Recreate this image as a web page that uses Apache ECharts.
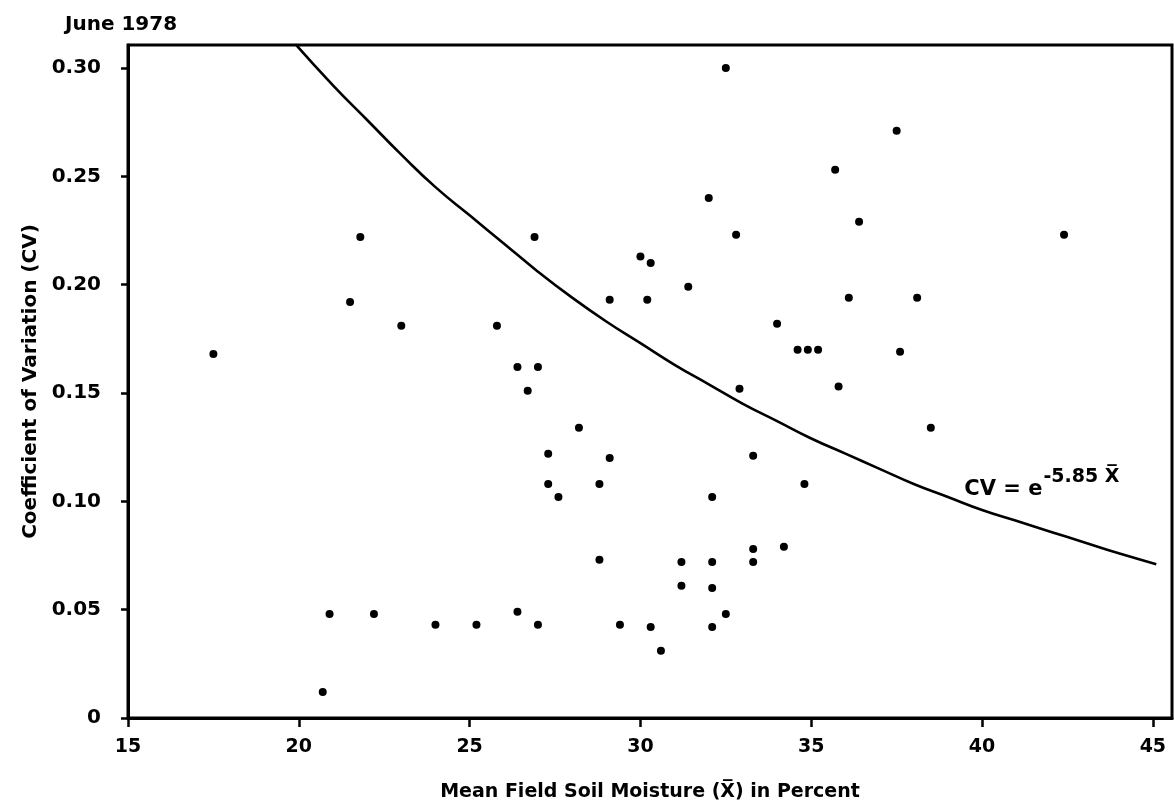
<!DOCTYPE html>
<html>
<head>
<meta charset="utf-8">
<title>June 1978 — Coefficient of Variation vs Mean Field Soil Moisture</title>
<script src="https://cdn.jsdelivr.net/npm/echarts@6/dist/echarts.min.js"></script>
<style>
  html, body { margin: 0; padding: 0; background: #fff; }
  #chart { width: 1174px; height: 809px; }
</style>
</head>
<body>
<div id="chart"></div>
<script>
// Field sample points: mean soil moisture (%) and coefficient of variation
const moisture = [
  17.5, 20.7, 20.9, 21.5, 21.8, 22.2, 23.0, 24.0, 25.2, 25.8,
  26.4, 26.4, 26.7, 26.9, 27.0, 27.0, 27.3, 27.3, 27.6, 28.2,
  28.8, 28.8, 29.1, 29.1, 29.4, 30.0, 30.3, 30.2, 30.3, 30.6,
  31.2, 31.2, 31.4, 32.0, 32.1, 32.1, 32.1, 32.1, 32.5, 32.5,
  32.8, 32.9, 33.3, 33.3, 33.3, 34.0, 34.2, 34.6, 34.8, 34.9,
  35.2, 35.7, 35.8, 36.1, 36.4, 37.5, 37.6, 38.1, 38.5, 42.4
];
const cv = [
  0.168, 0.012, 0.048, 0.192, 0.222, 0.048, 0.181, 0.043, 0.043, 0.181,
  0.162, 0.049, 0.151, 0.222, 0.162, 0.043, 0.122, 0.108, 0.102, 0.134,
  0.108, 0.073, 0.193, 0.120, 0.043, 0.213, 0.210, 0.193, 0.042, 0.031,
  0.072, 0.061, 0.199, 0.240, 0.102, 0.072, 0.060, 0.042, 0.048, 0.300,
  0.223, 0.152, 0.121, 0.078, 0.072, 0.182, 0.079, 0.170, 0.108, 0.170,
  0.170, 0.253, 0.153, 0.194, 0.229, 0.271, 0.169, 0.194, 0.134, 0.223
];

// Fitted envelope curve CV = e^(-5.85 X̄), sampled along the plot
const curveX = [19.9, 21, 22, 23, 24, 25, 26, 27, 28, 29, 30, 31, 32, 33, 34, 35, 36, 37, 38, 39, 40, 41, 42, 43, 44, 45.1];
const curveY = [0.311, 0.292, 0.276, 0.260, 0.245, 0.232, 0.219, 0.206, 0.194, 0.183, 0.173, 0.163, 0.154, 0.145, 0.137, 0.129, 0.122, 0.115, 0.108, 0.102, 0.096, 0.091, 0.086, 0.081, 0.076, 0.071];

// Axis ticks and their labels
const xTicks = [15, 20, 25, 30, 35, 40, 45];
const yTicks = [0, 0.05, 0.10, 0.15, 0.20, 0.25, 0.30];
const yTickLabels = ['0', '0.05', '0.10', '0.15', '0.20', '0.25', '0.30'];

const FONT = '"DejaVu Sans", "Liberation Sans", sans-serif';

const points = moisture.map((x, i) => [x, cv[i]]);
const curve = curveX.map((x, i) => [x, curveY[i]]);

const chart = echarts.init(document.getElementById('chart'), null, { renderer: 'canvas' });

chart.setOption({
  backgroundColor: '#ffffff',
  animation: false,
  title: {
    text: 'June 1978',
    left: 60,
    top: 10,
    textStyle: { fontFamily: FONT, fontSize: 20, fontWeight: 'bold', color: '#000' }
  },
  grid: {
    left: 128, top: 45, right: 2, bottom: 91,
    show: true,
    borderColor: '#000',
    borderWidth: 3,
    backgroundColor: 'transparent'
  },
  xAxis: {
    type: 'value',
    min: 15,
    max: 45.56,
    name: 'Mean Field Soil Moisture (X\u0305) in Percent',
    nameLocation: 'middle',
    nameGap: 65,
    nameTextStyle: { fontFamily: FONT, fontSize: 19, fontWeight: 'bold', color: '#000' },
    axisLine: { show: true, onZero: false, lineStyle: { color: '#000', width: 3 } },
    axisTick: { show: true, inside: false, length: 9, customValues: xTicks, lineStyle: { color: '#000', width: 2.5 } },
    axisLabel: {
      customValues: xTicks,
      margin: 20,
      fontFamily: FONT, fontSize: 19, fontWeight: 'bold', color: '#000'
    },
    splitLine: { show: false }
  },
  yAxis: {
    type: 'value',
    min: 0,
    max: 0.3106,
    name: 'Coefficient of Variation (CV)',
    nameLocation: 'middle',
    nameRotate: 90,
    nameGap: 86,
    nameTextStyle: { fontFamily: FONT, fontSize: 20, fontWeight: 'bold', color: '#000' },
    axisLine: { show: true, onZero: false, lineStyle: { color: '#000', width: 3 } },
    axisTick: { show: true, inside: false, length: 7, customValues: yTicks, lineStyle: { color: '#000', width: 2.5 } },
    axisLabel: {
      customValues: yTicks,
      margin: 27,
      fontFamily: FONT, fontSize: 20, fontWeight: 'bold', color: '#000',
      formatter: function (v) {
        const i = yTicks.findIndex(t => Math.abs(t - v) < 1e-9);
        return i >= 0 ? yTickLabels[i] : '';
      }
    },
    splitLine: { show: false }
  },
  series: [
    {
      name: 'envelope',
      type: 'line',
      data: curve,
      showSymbol: false,
      smooth: true,
      clip: true,
      lineStyle: { color: '#000', width: 2.6 },
      markPoint: {
        symbol: 'circle',
        symbolSize: 0,
        data: [{ coord: [41.75, 0.108] }],
        label: {
          show: true,
          position: 'inside',
          formatter: '{a|CV = e}{b|-5.85 X\u0305}',
          rich: {
            a: { fontFamily: FONT, fontSize: 21, fontWeight: 'bold', color: '#000', verticalAlign: 'bottom' },
            b: { fontFamily: FONT, fontSize: 19, fontWeight: 'bold', color: '#000', padding: [0, 0, 13, 1], verticalAlign: 'bottom' }
          }
        }
      }
    },
    {
      name: 'fields',
      type: 'scatter',
      data: points,
      symbol: 'circle',
      symbolSize: 8,
      itemStyle: { color: '#000', opacity: 1 }
    }
  ]
});
</script>
</body>
</html>
